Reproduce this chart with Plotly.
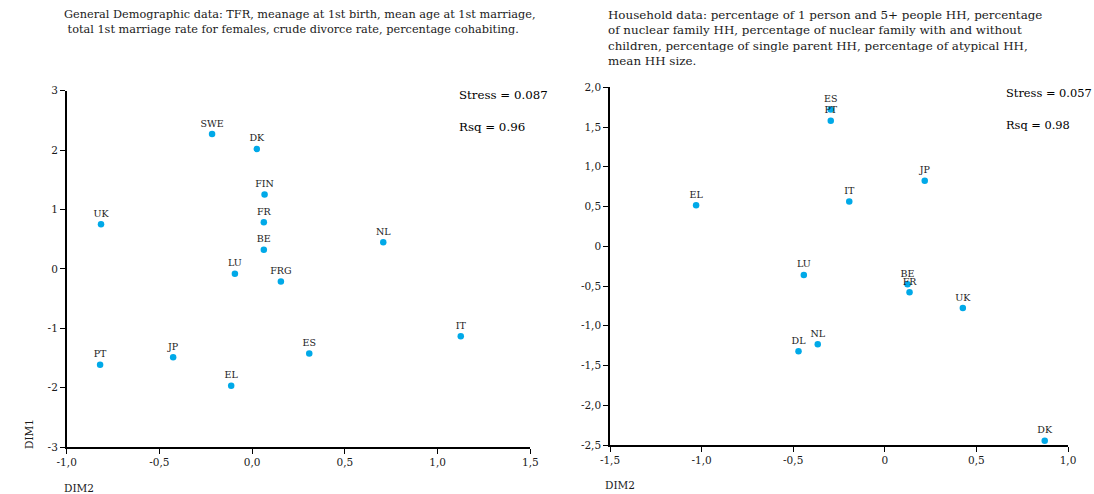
import plotly.graph_objects as go

W, H = 1094, 494

# ---- Left chart: General demographic data ----
demo_labels = ["SWE", "DK", "FIN", "FR", "BE", "UK", "LU", "FRG", "NL", "ES", "IT", "PT", "JP", "EL"]
demo_dim2 = [-0.216, 0.025, 0.067, 0.063, 0.063, -0.815, -0.093, 0.155, 0.707, 0.308, 1.125, -0.82, -0.426, -0.113]
demo_dim1 = [2.27, 2.02, 1.25, 0.785, 0.32, 0.75, -0.084, -0.214, 0.448, -1.426, -1.135, -1.617, -1.49, -1.97]

demo_xticks = [-1.0, -0.5, 0.0, 0.5, 1.0, 1.5]
demo_xticklabels = ["-1,0", "-0,5", "0,0", "0,5", "1,0", "1,5"]
demo_yticks = [-3, -2, -1, 0, 1, 2, 3]
demo_yticklabels = ["-3", "-2", "-1", "0", "1", "2", "3"]

# ---- Right chart: Household data ----
hh_labels = ["ES", "PT", "EL", "LU", "JP", "IT", "BE", "FR", "UK", "DK", "DL", "NL"]
hh_dim2 = [-0.295, -0.295, -1.03, -0.442, 0.218, -0.194, 0.124, 0.135, 0.426, 0.873, -0.471, -0.366]
hh_dim1 = [1.72, 1.58, 0.516, -0.36, 0.824, 0.563, -0.479, -0.579, -0.776, -2.447, -1.322, -1.234]

hh_xticks = [-1.5, -1.0, -0.5, 0.0, 0.5, 1.0]
hh_xticklabels = ["-1,5", "-1,0", "-0,5", "0", "0,5", "1,0"]
hh_yticks = [-2.5, -2.0, -1.5, -1.0, -0.5, 0.0, 0.5, 1.0, 1.5, 2.0]
hh_yticklabels = ["-2,5", "-2,0", "-1,5", "-1,0", "-0,5", "0", "0,5", "1,0", "1,5", "2,0"]

demo_stats = ["Stress = 0.087", "Rsq = 0.96"]
hh_stats = ["Stress = 0.057", "Rsq = 0.98"]

demo_title = ("General Demographic data: TFR, meanage at 1st birth, mean age at 1st marriage,<br>"
              " total 1st marriage rate for females, crude divorce rate, percentage cohabiting.")
hh_title = ("Household data: percentage of 1 person and 5+ people HH, percentage<br>"
            "of nuclear family HH, percentage of nuclear family with and without<br>"
            "children, percentage of single parent HH, percentage of atypical HH,<br>"
            "mean HH size.")

FONT = "DejaVu Serif"
TXT = "#1a1a1a"
DOT = "#00A9E8"

fig = go.Figure()
fig.add_trace(go.Scatter(
    x=demo_dim2, y=demo_dim1, text=demo_labels, mode="markers+text",
    textposition="top center", textfont=dict(family=FONT, size=9.5, color=TXT),
    marker=dict(color=DOT, size=6.5), xaxis="x", yaxis="y", showlegend=False,
    cliponaxis=False))
fig.add_trace(go.Scatter(
    x=hh_dim2, y=hh_dim1, text=hh_labels, mode="markers+text",
    textposition="top center", textfont=dict(family=FONT, size=9.5, color=TXT),
    marker=dict(color=DOT, size=6.5), xaxis="x2", yaxis="y2", showlegend=False,
    cliponaxis=False))

def px_x(p):
    return p / W

def px_y(p):
    return 1 - p / H

axis_common = dict(showgrid=False, zeroline=False, showline=True, linecolor="black",
                   linewidth=1.5, ticks="outside", ticklen=5, tickcolor="black", tickwidth=1.2,
                   tickfont=dict(family=FONT, size=10.5, color=TXT), mirror=False,
                   automargin=False)

fig.update_layout(
    width=W, height=H, margin=dict(l=0, r=0, t=0, b=0, autoexpand=False),
    paper_bgcolor="white", plot_bgcolor="white",
    xaxis=dict(domain=[px_x(66.7), px_x(530.3)], range=[-1.0, 1.5], anchor="y",
               tickmode="array", tickvals=demo_xticks, ticktext=demo_xticklabels, **axis_common),
    yaxis=dict(domain=[px_y(447), px_y(90.7)], range=[-3, 3], anchor="x",
               tickmode="array", tickvals=demo_yticks, ticktext=demo_yticklabels, **axis_common),
    xaxis2=dict(domain=[px_x(610), px_x(1068)], range=[-1.5, 1.0], anchor="y2",
                tickmode="array", tickvals=hh_xticks, ticktext=hh_xticklabels, **axis_common),
    yaxis2=dict(domain=[px_y(445), px_y(87.3)], range=[-2.5, 2.0], anchor="x2",
                tickmode="array", tickvals=hh_yticks, ticktext=hh_yticklabels, **axis_common),
)

annots = []
annots.append(dict(text=demo_title, x=px_x(300), y=px_y(6), xref="paper", yref="paper",
                   xanchor="center", yanchor="top", align="left", showarrow=False,
                   font=dict(family=FONT, size=11.3, color=TXT)))
annots.append(dict(text=hh_title, x=px_x(606), y=px_y(6), xref="paper", yref="paper",
                   xanchor="left", yanchor="top", align="left", showarrow=False,
                   font=dict(family=FONT, size=11.9, color=TXT)))
for i, s in enumerate(demo_stats):
    annots.append(dict(text=s, x=px_x(457), y=px_y(95 + 32 * i), xref="paper", yref="paper",
                       xanchor="left", yanchor="middle", showarrow=False,
                       font=dict(family=FONT, size=11.8, color="#000000")))
for i, s in enumerate(hh_stats):
    annots.append(dict(text=s, x=px_x(1004), y=px_y(93 + 32 * i), xref="paper", yref="paper",
                       xanchor="left", yanchor="middle", showarrow=False,
                       font=dict(family=FONT, size=11.4, color="#000000")))
annots.append(dict(text="DIM1", x=px_x(29), y=px_y(434), xref="paper", yref="paper",
                   xanchor="center", yanchor="middle", textangle=-90, showarrow=False,
                   font=dict(family=FONT, size=10.5, color=TXT)))
annots.append(dict(text="DIM2", x=px_x(62), y=px_y(488), xref="paper", yref="paper",
                   xanchor="left", yanchor="middle", showarrow=False,
                   font=dict(family=FONT, size=10.5, color=TXT)))
annots.append(dict(text="DIM2", x=px_x(603), y=px_y(485), xref="paper", yref="paper",
                   xanchor="left", yanchor="middle", showarrow=False,
                   font=dict(family=FONT, size=10.5, color=TXT)))
fig.update_layout(annotations=annots)

fig.write_html("out.html")
